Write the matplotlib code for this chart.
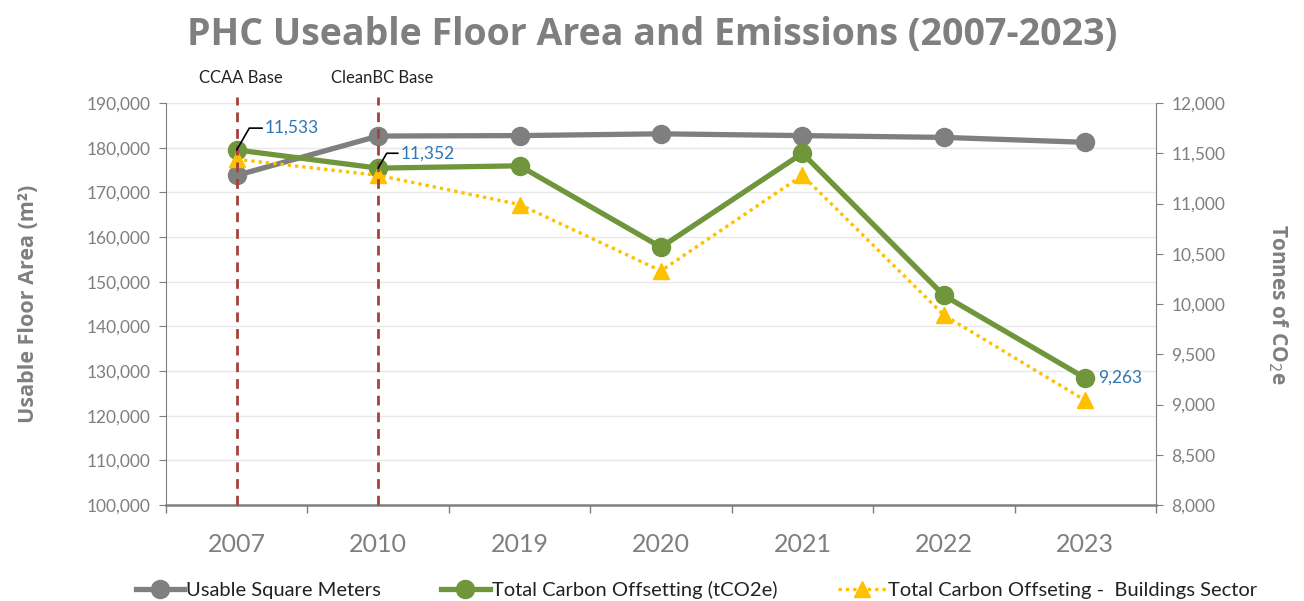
import matplotlib
matplotlib.use("Agg")
import matplotlib.pyplot as plt
from matplotlib.ticker import FuncFormatter, MultipleLocator, FixedLocator
import numpy as np

years = ["2007", "2010", "2019", "2020", "2021", "2022", "2023"]
floor_area = [173800, 182600, 182700, 183100, 182700, 182300, 181200]
total_offset = [11533, 11352, 11375, 10565, 11500, 10085, 9263]
buildings_offset = [11440, 11280, 10990, 10330, 11280, 9890, 9040]
title = "PHC Useable Floor Area and Emissions (2007-2023)"
base_labels = {"2007": "CCAA Base", "2010": "CleanBC Base"}

GRAY = "#7F7F7F"
GREEN = "#70963C"
YELLOW = "#FFC000"
BLUE = "#2E75B6"
RED = "#A5413C"
TXT = "#7F7F7F"

plt.rcParams['font.family'] = ['Lato', 'DejaVu Sans']

fig = plt.figure(figsize=(13.04, 6.01), dpi=100)
ax = fig.add_axes([166/1304, 1-505/601, (1156-166)/1304, (505-103)/601])
ax2 = ax.twinx()

x = np.arange(len(years))

l1, = ax.plot(x, floor_area, color=GRAY, lw=3.8, marker="o", ms=13, zorder=3,
              label="Usable Square Meters")
l2, = ax2.plot(x, total_offset, color=GREEN, lw=3.8, marker="o", ms=13, zorder=3,
               label="Total Carbon Offsetting (tCO2e)")
l3, = ax2.plot(x, buildings_offset, color=YELLOW, lw=2.4, ls=(0, (1, 1.2)), marker="^",
               ms=12, zorder=4, label="Total Carbon Offseting -  Buildings Sector")

ax.set_xlim(-0.5, len(years) - 0.5)
ax.set_ylim(100000, 190000)
ax2.set_ylim(8000, 12000)
ax.yaxis.set_major_locator(MultipleLocator(10000))
ax2.yaxis.set_major_locator(MultipleLocator(500))
fmt = FuncFormatter(lambda v, p: f"{int(v):,}")
ax.yaxis.set_major_formatter(fmt)
ax2.yaxis.set_major_formatter(fmt)

ax.set_xticks(x)
ax.set_xticklabels(years, fontsize=18, color=TXT)
ax.xaxis.set_minor_locator(FixedLocator(np.arange(-0.5, len(years), 1)))
ax.tick_params(axis="x", which="major", length=0, pad=20)
ax.tick_params(axis="x", which="minor", length=6, color=GRAY, width=1)
ax.tick_params(axis="y", labelsize=12.5, colors=TXT, length=5, color=GRAY, pad=6)
ax2.tick_params(axis="y", labelsize=12.5, colors=TXT, length=5, color=GRAY, pad=6)
for lab in ax.get_yticklabels() + ax2.get_yticklabels():
    lab.set_color(TXT)

ax.grid(axis="y", color="#E8E8E8", lw=1)
ax.set_axisbelow(True)
for a in (ax, ax2):
    a.spines["top"].set_visible(False)
    a.spines["left"].set_color(GRAY)
    a.spines["right"].set_color(GRAY)
    a.spines["bottom"].set_color(GRAY)
ax.spines["bottom"].set_linewidth(1.8)
ax2.spines["bottom"].set_visible(False)
ax.spines["right"].set_visible(False)
ax2.spines["left"].set_visible(False)

# vertical base lines
for yr, txt in base_labels.items():
    i = years.index(yr)
    ax2.plot([i, i], [8000, 12060], color=RED, lw=2, ls=(0, (3.5, 2.5)),
             zorder=6, clip_on=False)
    ax2.text(i + 0.03, 12250, txt, ha="center", va="center", fontsize=12,
             color="#222222", clip_on=False)

# annotations
ax2.annotate(f"{total_offset[0]:,}", xy=(0, total_offset[0]), xytext=(0.2, 11750),
             fontsize=12.5, color=BLUE, va="center", ha="left",
             arrowprops=dict(arrowstyle="-", color="black", lw=1.2,
                             connectionstyle="angle,angleA=0,angleB=60,rad=0",
                             shrinkA=0, shrinkB=0), zorder=7)
ax2.annotate(f"{total_offset[1]:,}", xy=(1, total_offset[1]), xytext=(1.16, 11500),
             fontsize=12.5, color=BLUE, va="center", ha="left",
             arrowprops=dict(arrowstyle="-", color="black", lw=1.2,
                             connectionstyle="angle,angleA=0,angleB=60,rad=0",
                             shrinkA=0, shrinkB=0), zorder=7)
ax2.text(6.09, total_offset[6], f"{total_offset[6]:,}", fontsize=12.5, color=BLUE,
         va="center", ha="left")

ax.set_ylabel("Usable Floor Area (m²)", fontsize=15.5, fontweight="bold", color=TXT,
              family="Open Sans", labelpad=34)
ax2.set_ylabel("Tonnes of CO$_2$e", fontsize=15, fontweight="bold", color=TXT,
               family="Open Sans", rotation=-90, labelpad=46)

fig.text(0.5, 0.942, title, ha="center", va="center", fontsize=27, fontweight="bold",
         color=TXT, family="Open Sans")

fig.legend(handles=[l1, l2, l3], loc="center", bbox_to_anchor=(0.534, 1 - 590/601),
           ncol=3, frameon=False, fontsize=14.5, handlelength=2.4, handletextpad=0.1,
           columnspacing=3.0, labelcolor="#222222")

fig.savefig("out.png", dpi=100)
